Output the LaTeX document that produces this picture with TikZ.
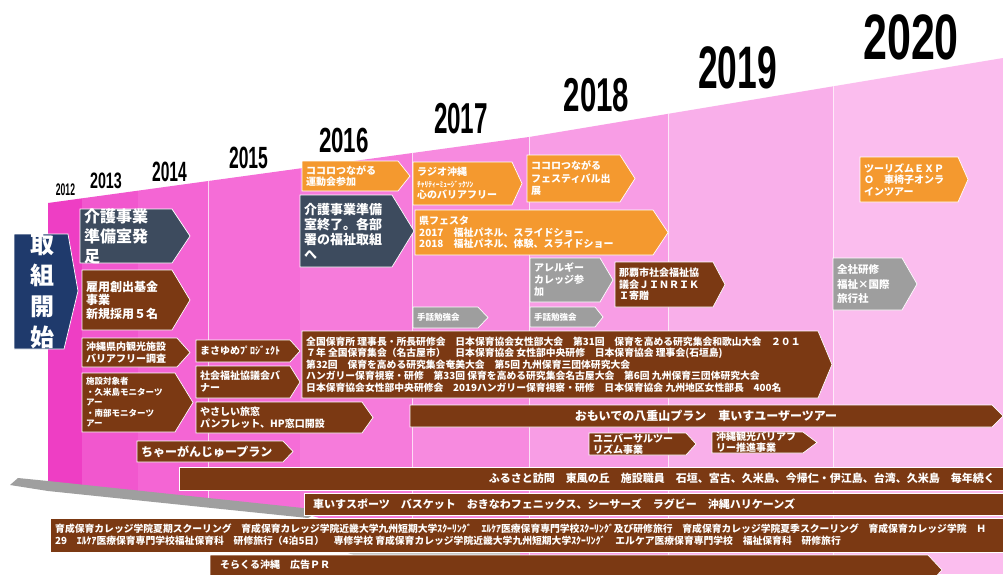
\documentclass[tikz,border=0pt]{standalone}
\usepackage{fontspec}
\usepackage{graphicx}
\setmainfont{Noto Sans CJK JP}
\newfontfamily\yrfont{Liberation Sans}
\definecolor{brownbox}{HTML}{7B3913}
\definecolor{slatebox}{HTML}{3D4B5E}
\definecolor{navybox}{HTML}{1F3A6C}
\definecolor{orangebox}{HTML}{F4992F}
\definecolor{greybox}{HTML}{9E9E9E}
\definecolor{pk0}{HTML}{EE3EC4}
\definecolor{pk1}{HTML}{F157CE}
\definecolor{pk2}{HTML}{F465D4}
\definecolor{pk3}{HTML}{F56DD7}
\definecolor{pk4}{HTML}{F67BDB}
\definecolor{pk5}{HTML}{F78ADF}
\definecolor{pk6}{HTML}{F89DE5}
\definecolor{pk7}{HTML}{F9AFEA}
\definecolor{pk8}{HTML}{FBBDEE}
\newcommand{\fs}[2]{\fontsize{#1}{#2}\selectfont}
\tikzset{
  boxline/.style={draw=white, line width=0.7pt},
  lbl/.style={text=white, align=left, inner sep=0pt, anchor=west},
  sepline/.style={draw=white, line width=1pt, opacity=0.7},
}
% name, colour, x1, y1, x2, xpoint, y2, font, text
\newcommand{\sig}[9]{%
  \fill[#2, boxline] (#3,#4) -- (#5,#4) -- (#6,{(#4+#7)/2}) -- (#5,#7) -- (#3,#7) -- cycle;
  \node[lbl, font={#8\bfseries}] (#1) at ({#3+4},{(#4+#7)/2}) {#9};}
\newcommand{\yr}[6]{\node[anchor=base, inner sep=0pt, font={\yrfont\bfseries\fontsize{#4}{#4}\selectfont}] (#1) at (#2,#3) {\scalebox{#5}[1]{#6}};}
\begin{document}
\begin{tikzpicture}[x=1pt,y=-1pt]
\useasboundingbox (0,0) rectangle (1003,574);
\fill[white] (0,0) rectangle (1003,574);
% pink floor
\begin{scope}
\clip (48,203) -- (529,137) -- (1003,58) -- (1003,574) -- (520,574) -- (305,514) -- (48,483) -- cycle;
\fill[pk0] (48,0) rectangle (82,574);
\fill[pk1] (82,0) rectangle (138,574);
\fill[pk2] (138,0) rectangle (208,574);
\fill[pk3] (208,0) rectangle (300,574);
\fill[pk4] (300,0) rectangle (412,574);
\fill[pk5] (412,0) rectangle (529,574);
\fill[pk6] (529,0) rectangle (668,574);
\fill[pk7] (668,0) rectangle (833,574);
\fill[pk8] (833,0) rectangle (1003,574);
\foreach \sx in {208,412,529,668,833} \draw[sepline] (\sx,0) -- (\sx,574);
\end{scope}
% grey floor edge
\fill[gray!75] (10,485) -- (18,478) -- (48,481) -- (322,510) -- (308,518) -- (48,491) -- cycle;
\fill[gray!45] (345,552) -- (520,552) -- (520,557) -- (360,557) -- cycle;
% years
\yr{y2012}{65.5}{195}{16.8}{0.51}{2012}
\yr{y2013}{106}{188}{22.3}{0.64}{2013}
\yr{y2014}{169.5}{181}{27.9}{0.56}{2014}
\yr{y2015}{248.5}{168}{30.7}{0.57}{2015}
\yr{y2016}{344}{152}{34.9}{0.64}{2016}
\yr{y2017}{461}{133}{43.3}{0.56}{2017}
\yr{y2018}{596.5}{111}{47.5}{0.62}{2018}
\yr{y2019}{737.5}{88}{60}{0.59}{2019}
\yr{y2020}{911}{59}{64.2}{0.67}{2020}
% start box
\fill[navybox, boxline] (14,234) -- (68,234) -- (78,291) -- (64,349) -- (14,349) -- cycle;
\node[text=white, align=center, inner sep=0pt, font={\fs{24}{31}\bfseries}] (start) at (42,292) {取\\組\\開\\始};
% 2013-2015 column
\sig{kaigoA}{slatebox}{80}{209}{172}{190}{263}{\fs{16}{20}}{介護事業\\準備室発\\足}
\sig{koyo}{brownbox}{82}{270}{172}{190}{330}{\fs{12}{13.5}}{雇用創出基金\\事業\\新規採用５名}
\sig{okinawa}{brownbox}{82}{338}{177}{190}{367}{\fs{10}{12}}{沖縄県内観光施設\\バリアフリー調査}
\sig{shisetsu}{brownbox}{82}{373}{175}{193}{432}{\fs{8.5}{10.5}}{施設対象者\\・久米島モニターツ\\アー\\・南部モニターツ\\アー}
\sig{masayume}{brownbox}{196}{340}{290}{300}{362}{\fs{10}{12}}{まさゆめﾌﾟﾛｼﾞｪｸﾄ}
\sig{shakai}{brownbox}{196}{366}{290}{300}{398}{\fs{10}{12}}{社会福祉協議会バ\\ナー}
\sig{yasashii}{brownbox}{196}{402}{362}{373}{433}{\fs{10}{11.5}}{やさしい旅窓\\パンフレット、HP窓口開設}
\sig{chaagan}{brownbox}{137}{441}{283}{293}{462}{\fs{12}{14}}{ちゃーがんじゅープラン}
% big brown box
\sig{hoiku}{brownbox}{302}{331}{818}{832}{398}{\fs{9.8}{11.4}}{全国保育所 理事長・所長研修会　日本保育協会女性部大会　第31回　保育を高める研究集会和歌山大会　２０１\\７年 全国保育集会（名古屋市）　日本保育協会 女性部中央研修　日本保育協会 理事会(石垣島)\\第32回　保育を高める研究集会奄美大会　第5回 九州保育三団体研究大会\\ハンガリー保育視察・研修　第33回 保育を高める研究集会名古屋大会　第6回 九州保育三団体研究大会\\日本保育協会女性部中央研修会　2019ハンガリー保育視察・研修　日本保育協会 九州地区女性部長　400名}
% 2016
\sig{kokoroA}{orangebox}{302}{161}{398}{410}{191}{\fs{10}{11}}{ココロつながる\\運動会参加}
\sig{kaigoB}{slatebox}{300}{195}{392}{414}{267}{\fs{13}{15}}{介護事業準備\\室終了。各部\\署の福祉取組\\へ}
% 2017
\sig{radio}{orangebox}{413}{162}{512}{522}{205}{\fs{10}{11.5}}{ラジオ沖縄\\{\fs{7.5}{11.5}ﾁｬﾘﾃｨｰﾐｭｰｼﾞｯｸｿﾝ}\\心のバリアフリー}
\sig{fest}{orangebox}{415}{210}{653}{668}{255}{\fs{10}{11.5}}{県フェスタ\\2017　福祉パネル、スライドショー\\2018　福祉パネル、体験、スライドショー}
\sig{shuwaA}{greybox}{413}{307}{478}{488}{328}{\fs{8.5}{10}}{手話勉強会}
% 2018
\sig{kokoroB}{orangebox}{527}{155}{620}{635}{202}{\fs{10}{12.5}}{ココロつながる\\フェスティバル出\\展}
\sig{allergy}{greybox}{530}{258}{600}{613}{302}{\fs{10}{12}}{アレルギー\\カレッジ参\\加}
\sig{shuwaB}{greybox}{530}{307}{595}{603}{327}{\fs{8.5}{10}}{手話勉強会}
\sig{naha}{brownbox}{615}{262}{713}{725}{307}{\fs{10}{11.5}}{那覇市社会福祉協\\議会ＪＩＮＲＩＫ\\Ｉ寄贈}
% 2020
\sig{expo}{orangebox}{860}{157}{958}{968}{202}{\fs{10}{11.5}}{ツーリズムＥＸＰ\\Ｏ　車椅子オンラ\\インツアー}
\sig{zensha}{greybox}{833}{258}{902}{917}{310}{\fs{10.5}{14.5}}{全社研修\\福祉×国際\\旅行社}
% long bars
\fill[brownbox, boxline] (410,405) -- (992,405) -- (1003,416) -- (992,427) -- (410,427) -- cycle;
\node[text=white, inner sep=0pt, font={\fs{12}{14}\bfseries}] (omoide) at (706,416) {おもいでの八重山プラン　車いすユーザーツアー};
\sig{univ}{brownbox}{589}{433}{686}{696}{455}{\fs{10}{11}}{ユニバーサルツー\\リズム事業}
\sig{bfree}{brownbox}{712}{432}{803}{817}{453}{\fs{10}{11}}{沖縄観光バリアフ\\リー推進事業}
\fill[brownbox, boxline] (179,467) rectangle (1005,490);
\node[text=white, inner sep=0pt, anchor=east, font={\fs{11}{13}\bfseries}] (furusato) at (995,478.5) {ふるさと訪問　東風の丘　施設職員　石垣、宮古、久米島、今帰仁・伊江島、台湾、久米島　毎年続く};
\fill[brownbox, boxline] (304,493) rectangle (1005,515);
\node[lbl, font={\fs{11}{13}\bfseries}] (sports) at (313,504) {車いすスポーツ　バスケット　おきなわフェニックス、シーサーズ　ラグビー　沖縄ハリケーンズ};
\fill[brownbox, boxline] (50,518) rectangle (1005,552);
\node[lbl, font={\fs{9.8}{12}\bfseries}] (ikusei) at (55,535) {育成保育カレッジ学院夏期スクーリング　育成保育カレッジ学院近畿大学九州短期大学ｽｸｰﾘﾝｸﾞ　ｴﾙｹｱ医療保育専門学校ｽｸｰﾘﾝｸﾞ及び研修旅行　育成保育カレッジ学院夏季スクーリング　育成保育カレッジ学院　Ｈ\\29　ｴﾙｹｱ医療保育専門学校福祉保育科　研修旅行（4泊5日）　専修学校 育成保育カレッジ学院近畿大学九州短期大学ｽｸｰﾘﾝｸﾞ　エルケア医療保育専門学校　福祉保育科　研修旅行};
\fill[brownbox, boxline] (210,555) -- (928,555) -- (942,570) -- (928,585) -- (210,585) -- cycle;
\node[lbl, font={\fs{10}{12}\bfseries}] (sorakuru) at (220,565) {そらくる沖縄　広告ＰＲ};
\end{tikzpicture}
\end{document}
